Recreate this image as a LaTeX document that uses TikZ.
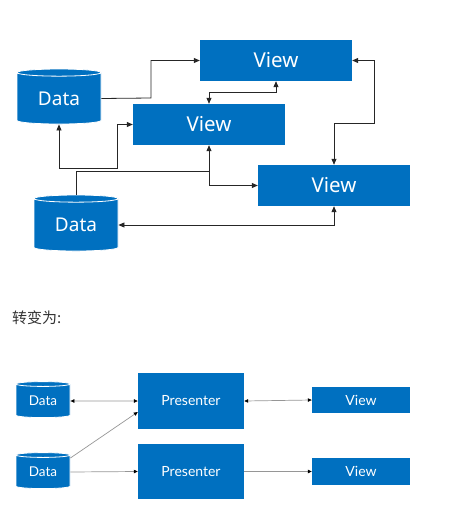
\documentclass[tikz,border=0pt]{standalone}
\usepackage{fontspec}
\setmainfont{Noto Sans}
\newfontfamily\latofont{Lato}
\newfontfamily\cjkfont{Noto Sans CJK SC}
\usetikzlibrary{shapes.geometric,arrows.meta}
\definecolor{boxblue}{RGB}{0,112,192}
\definecolor{linegray}{RGB}{150,150,150}
\tikzset{
  viewbox/.style={fill=boxblue,text=white,inner sep=0pt},
  database/.style={cylinder,shape border rotate=90,aspect=0.17,fill=boxblue,draw=white,line width=0.8pt,text=white,inner sep=0pt},
  link/.style={draw=black!85,line width=0.8pt,-{Triangle[length=6pt,width=5pt]}},
  twolink/.style={link,{Triangle[length=6pt,width=5pt]}-{Triangle[length=6pt,width=5pt]}},
  thin link/.style={draw=linegray,line width=0.7pt,-{Triangle[length=4pt,width=3.5pt,color=black]}},
  thin twolink/.style={thin link,{Triangle[length=4pt,width=3.5pt,color=black]}-{Triangle[length=4pt,width=3.5pt,color=black]}},
}

\begin{document}
\begin{tikzpicture}[x=1pt,y=-1pt]
\useasboundingbox (0,0) rectangle (455,522);

\node[viewbox,minimum width=152pt,minimum height=41pt,font=\fontsize{20.5}{22}\selectfont] (viewA) at (276,60.5) {View};
\node[viewbox,minimum width=152pt,minimum height=41pt,font=\fontsize{20.5}{22}\selectfont] (viewB) at (209,124.5) {View};
\node[viewbox,minimum width=152pt,minimum height=41pt,font=\fontsize{20.5}{22}\selectfont] (viewC) at (334,185.5) {View};
\node[database,minimum width=84pt,minimum height=55pt,font=\fontsize{19}{20}\selectfont] (dataA) at (59,98.5) {\raisebox{-2pt}{Data}};
\node[database,minimum width=84pt,minimum height=56pt,font=\fontsize{19}{20}\selectfont] (dataB) at (76,225) {\raisebox{-2pt}{Data}};

\coordinate (fork) at (viewB.south |- 0,171);

\draw[link] (dataA.east) -- (151,98) |- (viewA.west);
\draw[twolink] (viewA.south) -- ++(0,11) -| (viewB.north);
\draw[twolink] (dataA.south) |- (117,168) |- (viewB.west);
\draw[link] (dataB.north) |- (fork) -- (viewB.south);
\draw[link] (fork) |- (viewC.west);
\draw[twolink] (viewC.south) |- (dataB.east);
\draw[twolink] (viewA.east) -| (374,123) -| (viewC.north);

\node[anchor=west,text=black!80,font=\cjkfont\fontsize{15}{17}\selectfont,inner sep=0pt] (caption) at (12,318) {转变为:};

\node[database,minimum width=54pt,minimum height=36pt,font=\latofont\fontsize{13.5}{14}\selectfont] (dataC) at (43,401) {\raisebox{-1pt}{Data}};
\node[database,minimum width=54pt,minimum height=36pt,font=\latofont\fontsize{13.5}{14}\selectfont] (dataD) at (43,472) {\raisebox{-1pt}{Data}};
\node[viewbox,minimum width=106pt,minimum height=56pt,font=\latofont\fontsize{14}{15}\selectfont] (presA) at (191,401) {Presenter};
\node[viewbox,minimum width=106pt,minimum height=55pt,font=\latofont\fontsize{14}{15}\selectfont] (presB) at (191,471.5) {Presenter};
\node[viewbox,minimum width=98pt,minimum height=26pt,font=\latofont\fontsize{14}{15}\selectfont] (viewD) at (361,400) {View};
\node[viewbox,minimum width=98pt,minimum height=27pt,font=\latofont\fontsize{14}{15}\selectfont] (viewE) at (361,471.5) {View};

\draw[thin twolink] (dataC.east) -- (presA.west);
\draw[thin link] ([yshift=14pt]dataD.east) -- ([yshift=-11pt]presA.west);
\draw[thin link] (dataD.east) -- (presB.west);
\draw[thin twolink] (presA.east) -- (viewD.west);
\draw[thin link] (presB.east) -- (viewE.west);
\end{tikzpicture}
\end{document}
